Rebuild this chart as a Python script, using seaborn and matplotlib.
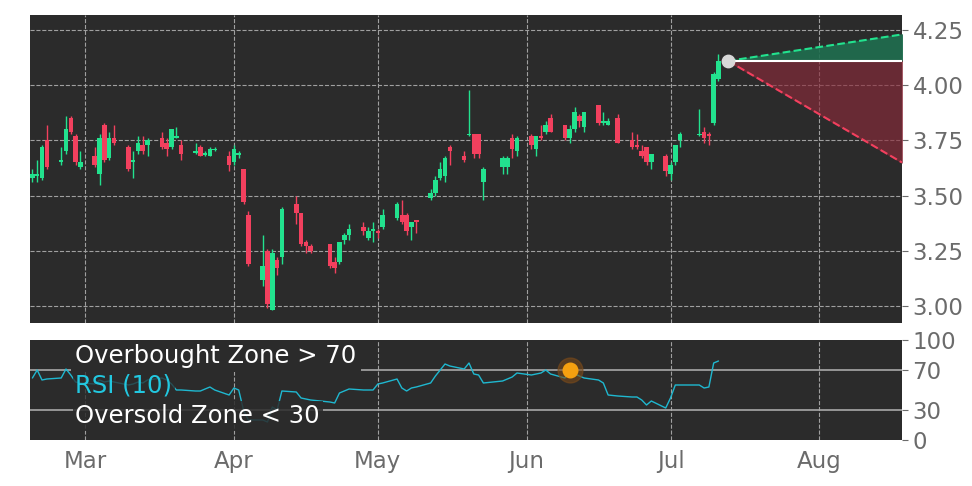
import numpy as np
import pandas as pd
import matplotlib
matplotlib.use("Agg")
import matplotlib.pyplot as plt
import matplotlib.dates as mdates
import seaborn as sns

sns.set_style("dark")
plt.rcParams['font.family'] = ['DejaVu Sans']

holidays = ["2025-04-18", "2025-05-26", "2025-06-19", "2025-07-04"]
dates = pd.bdate_range("2025-02-18", "2025-07-11")
dates = dates[~dates.isin(pd.to_datetime(holidays))]

opens = [3.58, 3.59, 3.58, 3.75, 3.65, 3.70, 3.85, 3.77, 3.63,
         3.68, 3.60, 3.82, 3.67, 3.76, 3.72, 3.65, 3.70, 3.73, 3.73, 3.76, 3.74, 3.72, 3.76, 3.73,
         3.695, 3.72, 3.685, 3.68, 3.705, 3.68,
         3.65, 3.685, 3.62, 3.41, 3.12, 3.25, 2.98, 3.21, 3.22, 3.46, 3.42, 3.29, 3.27, 3.28, 3.20,
         3.20, 3.30, 3.32, 3.36, 3.31, 3.34,
         3.34, 3.36, 3.40, 3.41, 3.41, 3.36, 3.39, 3.49, 3.51, 3.58, 3.59, 3.72, 3.68, 3.775, 3.78,
         3.78, 3.56, 3.63, 3.63, 3.76, 3.70,
         3.77, 3.71, 3.77, 3.79, 3.85, 3.82, 3.76, 3.80, 3.86, 3.81, 3.91, 3.83, 3.82, 3.85, 3.75,
         3.73, 3.70, 3.72, 3.65, 3.68,
         3.60, 3.65, 3.75, 3.775, 3.79, 3.78, 3.83, 4.03]
closes = [3.60, 3.60, 3.72, 3.63, 3.66, 3.80, 3.79, 3.65, 3.65,
          3.64, 3.76, 3.66, 3.76, 3.74, 3.62, 3.66, 3.74, 3.70, 3.75, 3.72, 3.71, 3.80, 3.77, 3.69,
          3.70, 3.68, 3.69, 3.71, 3.71, 3.64,
          3.71, 3.69, 3.47, 3.19, 3.18, 3.01, 3.24, 3.17, 3.44, 3.42, 3.28, 3.27, 3.25, 3.18, 3.17,
          3.29, 3.32, 3.35, 3.34, 3.34, 3.35,
          3.33, 3.41, 3.46, 3.38, 3.34, 3.38, 3.38, 3.51, 3.57, 3.62, 3.67, 3.70, 3.66, 3.78, 3.69,
          3.69, 3.62, 3.67, 3.67, 3.71, 3.76,
          3.73, 3.77, 3.76, 3.82, 3.79, 3.76, 3.80, 3.88, 3.84, 3.88, 3.83, 3.835, 3.84, 3.74, 3.72,
          3.72, 3.68, 3.65, 3.69, 3.61,
          3.64, 3.73, 3.78, 3.78, 3.76, 3.77, 4.05, 4.11]
highs = [3.62, 3.66, 3.73, 3.82, 3.72, 3.86, 3.86, 3.78, 3.70,
         3.72, 3.78, 3.83, 3.79, 3.82, 3.73, 3.70, 3.77, 3.77, 3.76, 3.79, 3.76, 3.80, 3.81, 3.75,
         3.74, 3.73, 3.70, 3.72, 3.72, 3.70,
         3.73, 3.70, 3.62, 3.43, 3.32, 3.26, 3.26, 3.22, 3.45, 3.50, 3.42, 3.30, 3.28, 3.28, 3.22,
         3.29, 3.33, 3.37, 3.38, 3.36, 3.38,
         3.35, 3.44, 3.47, 3.48, 3.42, 3.38, 3.39, 3.53, 3.59, 3.65, 3.68, 3.73, 3.70, 3.98, 3.78,
         3.78, 3.63, 3.68, 3.68, 3.78, 3.77,
         3.78, 3.77, 3.82, 3.84, 3.87, 3.82, 3.82, 3.90, 3.87, 3.88, 3.91, 3.88, 3.85, 3.87, 3.79,
         3.78, 3.73, 3.72, 3.69, 3.69,
         3.65, 3.73, 3.79, 3.89, 3.81, 3.79, 4.06, 4.14]
lows = [3.56, 3.56, 3.57, 3.62, 3.64, 3.69, 3.78, 3.64, 3.62,
        3.63, 3.55, 3.65, 3.66, 3.73, 3.61, 3.58, 3.69, 3.69, 3.68, 3.71, 3.68, 3.71, 3.76, 3.66,
        3.69, 3.68, 3.68, 3.68, 3.70, 3.61,
        3.64, 3.67, 3.46, 3.18, 3.09, 2.99, 2.98, 3.14, 3.19, 3.37, 3.27, 3.24, 3.24, 3.17, 3.15,
        3.19, 3.28, 3.30, 3.32, 3.30, 3.29,
        3.31, 3.35, 3.39, 3.37, 3.32, 3.30, 3.33, 3.48, 3.50, 3.57, 3.56, 3.64, 3.65, 3.77, 3.67,
        3.67, 3.48, 3.60, 3.60, 3.67, 3.68,
        3.71, 3.68, 3.75, 3.78, 3.79, 3.75, 3.74, 3.79, 3.81, 3.79, 3.82, 3.82, 3.82, 3.74, 3.71,
        3.71, 3.67, 3.64, 3.62, 3.59,
        3.57, 3.64, 3.72, 3.77, 3.74, 3.73, 3.82, 4.02]
rsi = [62, 70, 60, 61, 62, 71, 65, 58, 57,
       56, 60, 58, 59, 58, 55, 56, 58, 57, 60, 62, 60, 56, 50, 50, 49, 49, 51, 53, 50, 45,
       52, 50, 30, 20, 20, 18, 33, 30, 49, 48, 42, 41, 40, 38, 37, 47, 49, 51, 50, 50, 50,
       56, 57, 61, 52, 49, 52, 53, 57, 64, 70, 76, 74, 71, 77, 66, 65, 57, 59, 61, 63, 67,
       65, 66, 67, 70, 66, 62, 70, 66, 64, 62, 60, 57, 45, 44, 43, 43, 40, 35, 39, 32,
       42, 55, 55, 55, 52, 53, 77, 79]

last_close = 4.11
proj_date = "2025-07-13"
proj_upper = 4.23
proj_lower = 3.65
signal_date = "2025-06-10"
signal_rsi = 70

df = pd.DataFrame({'date': dates, 'open': opens, 'close': closes,
                   'high': highs, 'low': lows, 'rsi': rsi})

BG = '#2b2b2b'
GREEN = '#22e28e'
RED = '#f2405e'
TICK = '#6b6b6b'

fig = plt.figure(figsize=(9.72, 4.86), dpi=100)
ax = fig.add_axes([30/972, 1-323/486, 872/972, 308/486])
ax2 = fig.add_axes([30/972, 1-440/486, 872/972, 100/486])

for a in (ax, ax2):
    a.set_facecolor(BG)
    for s in a.spines.values():
        s.set_visible(False)
    a.yaxis.tick_right()
    a.tick_params(axis='both', colors=TICK, labelsize=16.5, length=4)

up = df['close'] >= df['open']
colors = np.where(up, GREEN, RED)
x = mdates.date2num(df['date'])
ax.vlines(x, df['low'], df['high'], colors=colors, lw=1, zorder=3)
body_lo = np.minimum(df['open'], df['close'])
body_h = np.maximum(np.abs(df['close'] - df['open']), 0.006)
ax.bar(x, body_h, bottom=body_lo, width=0.95, color=colors, edgecolor='none', linewidth=0, zorder=4)

# projection cone
xp = mdates.date2num(pd.Timestamp(proj_date))
xlim = (mdates.date2num(pd.Timestamp("2025-02-17 12:00")), mdates.date2num(pd.Timestamp("2025-08-18 06:00")))
xe = xlim[1]
ax.fill_between([xp, xe], [last_close, last_close], [last_close, proj_upper], color='#1f6e4f', alpha=0.9, zorder=2)
ax.fill_between([xp, xe], [last_close, last_close], [last_close, proj_lower], color='#8a2a3a', alpha=0.65, zorder=2)
ax.plot([xp, xe], [last_close, proj_upper], ls='--', color=GREEN, lw=1.5, zorder=5)
ax.plot([xp, xe], [last_close, proj_lower], ls='--', color=RED, lw=1.5, zorder=5)
ax.plot([xp, xe], [last_close, last_close], color='white', lw=1.5, zorder=5)
ax.scatter([xp], [last_close], s=80, color='#d8d8d8', zorder=6)

ax.set_ylim(2.923, 4.318)
ax.set_yticks([3.00, 3.25, 3.50, 3.75, 4.00, 4.25])
ax.yaxis.set_major_formatter(matplotlib.ticker.FormatStrFormatter('%.2f'))

months = pd.to_datetime(["2025-03-01", "2025-04-01", "2025-05-01", "2025-06-01", "2025-07-01", "2025-08-01"])
minors = pd.to_datetime(["2025-03-03", "2025-03-27", "2025-04-22", "2025-05-16", "2025-06-10", "2025-07-05"])
for a in (ax, ax2):
    a.set_xlim(*xlim)
    a.set_xticks(mdates.date2num(months))
    a.set_xticks(mdates.date2num(minors), minor=True)
    a.tick_params(axis='x', which='minor', length=3, colors=TICK)
ax.set_xticklabels([])
ax2.set_xticklabels([m.strftime('%b') for m in months])
ax.grid(True, color='#a0a0a0', ls='--', lw=0.8, zorder=0)
ax2.grid(True, axis='x', color='#a0a0a0', ls='--', lw=0.8, zorder=0)
ax2.grid(False, axis='y')

# RSI panel
ax2.axhline(70, color='#a8a8a8', lw=1.2, zorder=1)
ax2.axhline(30, color='#a8a8a8', lw=1.2, zorder=1)
sns.lineplot(data=df, x=x, y='rsi', ax=ax2, color='#1fb8d0', lw=1, zorder=3)
xs = mdates.date2num(pd.Timestamp(signal_date))
ax2.scatter([xs], [signal_rsi], s=320, color='#7a4a1a', alpha=0.6, zorder=4)
ax2.scatter([xs], [signal_rsi], s=110, color='#f5a010', zorder=5)
ax2.set_ylim(0, 100)
ax2.set_yticks([0, 30, 70, 100])
ax2.set_xlabel('')
ax2.set_ylabel('')

ax2.text(0.052, 0.84, 'Overbought Zone > 70', transform=ax2.transAxes, color='white',
         fontsize=17.5, va='center', bbox=dict(facecolor=BG, edgecolor='none', pad=3), zorder=6)
ax2.text(0.052, 0.55, 'RSI (10)', transform=ax2.transAxes, color='#22c8e0',
         fontsize=17.5, va='center', bbox=dict(facecolor=BG, edgecolor='none', pad=2, alpha=0.75), zorder=6)
ax2.text(0.052, 0.24, 'Oversold Zone < 30', transform=ax2.transAxes, color='white',
         fontsize=17.5, va='center', bbox=dict(facecolor=BG, edgecolor='none', pad=2, alpha=0.85), zorder=6)

fig.savefig('out.png', dpi=100)
